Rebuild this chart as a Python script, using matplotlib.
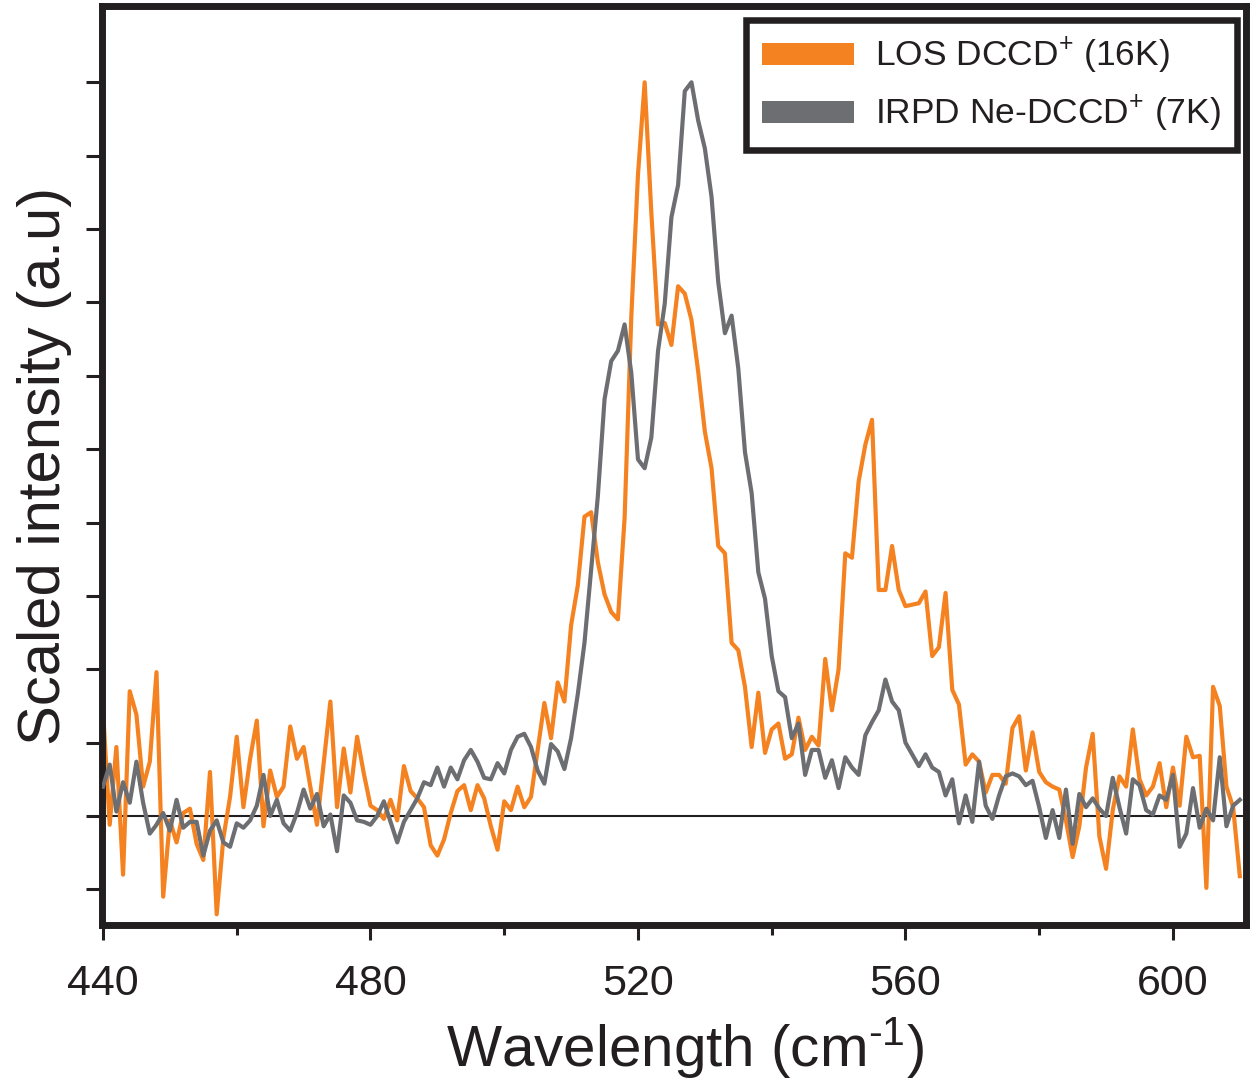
import matplotlib
matplotlib.use("Agg")
import matplotlib.pyplot as plt
import numpy as np
from matplotlib.patches import Patch
from matplotlib.ticker import MultipleLocator, FixedLocator

plt.rcParams['font.family'] = ['Liberation Sans', 'DejaVu Sans']
plt.rcParams['mathtext.fontset'] = 'custom'
plt.rcParams['mathtext.rm'] = 'Liberation Sans'
plt.rcParams['mathtext.it'] = 'Liberation Sans:italic'
plt.rcParams['mathtext.bf'] = 'Liberation Sans:bold'

# wavenumber grid (cm-1), one point per cm-1
wavenumber = np.arange(440, 611)

# LOS DCCD+ (16K), scaled so main peak = 5
los = [0.72, -0.06, 0.47, -0.40, 0.85, 0.69, 0.20, 0.37, 0.98, -0.55,
       -0.03, -0.18, 0.02, 0.05, -0.19, -0.30, 0.30, -0.67, -0.15, 0.13,
       0.54, 0.06, 0.39, 0.65, -0.07, 0.31, 0.13, 0.20, 0.61, 0.39,
       0.47, 0.20, -0.06, 0.36, 0.78, 0.06, 0.46, 0.16, 0.54, 0.29,
       0.07, 0.04, -0.02, 0.11, -0.03, 0.34, 0.17, 0.12, 0.06, -0.20,
       -0.27, -0.16, 0.02, 0.17, 0.21, 0.04, 0.21, 0.12, -0.07, -0.23,
       0.10, 0.04, 0.20, 0.06, 0.13, 0.45, 0.77, 0.53, 0.91, 0.78,
       1.30, 1.57, 2.04, 2.07, 1.73, 1.51, 1.39, 1.34, 2.03, 3.40,
       4.37, 5.00, 4.11, 3.35, 3.36, 3.21, 3.61, 3.56, 3.38, 3.03,
       2.62, 2.37, 1.84, 1.79, 1.18, 1.13, 0.88, 0.47, 0.84, 0.43,
       0.59, 0.63, 0.39, 0.42, 0.67, 0.45, 0.54, 0.48, 1.07, 0.72,
       1.00, 1.79, 1.76, 2.28, 2.53, 2.70, 1.54, 1.54, 1.84, 1.54,
       1.43, 1.44, 1.45, 1.53, 1.09, 1.15, 1.52, 0.86, 0.76, 0.35,
       0.42, 0.37, 0.16, 0.28, 0.28, 0.22, 0.60, 0.68, 0.31, 0.57,
       0.30, 0.23, 0.20, 0.18, -0.03, -0.28, -0.07, 0.33, 0.56, -0.14,
       -0.36, 0.04, 0.27, 0.20, 0.59, 0.25, 0.14, 0.20, 0.36, 0.06,
       0.33, 0.07, 0.54, 0.40, 0.41, -0.49, 0.88, 0.75, 0.20, 0.06,
       -0.41]

# IRPD Ne-DCCD+ (7K)
irpd = [0.20, 0.35, 0.03, 0.23, 0.09, 0.37, 0.09, -0.12, -0.06, 0.02,
        -0.10, 0.11, -0.08, -0.04, -0.04, -0.27, -0.10, -0.03, -0.18, -0.21,
        -0.05, -0.08, -0.03, 0.07, 0.28, 0.00, 0.11, -0.05, -0.10, 0.02,
        0.18, 0.05, 0.15, -0.07, 0.01, -0.24, 0.14, 0.09, -0.03, -0.04,
        -0.06, 0.00, 0.10, -0.04, -0.18, -0.04, 0.04, 0.12, 0.23, 0.21,
        0.33, 0.20, 0.33, 0.25, 0.38, 0.45, 0.37, 0.26, 0.25, 0.36,
        0.29, 0.45, 0.54, 0.56, 0.47, 0.31, 0.22, 0.49, 0.44, 0.32,
        0.53, 0.83, 1.18, 1.68, 2.18, 2.84, 3.10, 3.17, 3.35, 3.02,
        2.43, 2.37, 2.58, 3.17, 3.49, 4.08, 4.30, 4.94, 5.00, 4.74,
        4.55, 4.22, 3.64, 3.29, 3.41, 3.05, 2.48, 2.20, 1.66, 1.48,
        1.09, 0.85, 0.81, 0.53, 0.63, 0.28, 0.45, 0.45, 0.26, 0.38,
        0.19, 0.40, 0.33, 0.28, 0.55, 0.64, 0.72, 0.93, 0.78, 0.72,
        0.50, 0.42, 0.34, 0.42, 0.33, 0.30, 0.14, 0.25, -0.05, 0.14,
        -0.04, 0.37, 0.07, -0.02, 0.14, 0.27, 0.29, 0.27, 0.21, 0.24,
        0.06, -0.15, 0.04, -0.15, 0.18, -0.19, 0.15, 0.06, 0.12, 0.05,
        0.00, 0.26, 0.06, -0.12, 0.25, 0.21, 0.04, 0.01, 0.14, 0.11,
        0.28, -0.21, -0.12, 0.19, -0.08, 0.05, -0.03, 0.40, -0.07, 0.07,
        0.11]

labels = ['LOS DCCD$^{+}$ (16K)', 'IRPD Ne-DCCD$^{+}$ (7K)']
xticks = [440, 480, 520, 560, 600]
yticks = [-0.5, 0, 0.5, 1, 1.5, 2, 2.5, 3, 3.5, 4, 4.5, 5]

ORANGE = '#F58220'
GREY = '#6D6E71'
BLACK = '#231F20'

fig = plt.figure(figsize=(12.51, 10.82), dpi=100)
ax = fig.add_axes([102/1251, 1 - 925/1082, (1245.5 - 102)/1251, (925 - 6)/1082])

ax.axhline(0, color=BLACK, lw=1.5, zorder=1)
ax.plot(wavenumber, los, color=ORANGE, lw=3.0, zorder=2)
ax.plot(wavenumber, irpd, color=GREY, lw=3.0, zorder=3)

ax.set_xlim(439.85, 610.85)
ax.set_ylim(-0.743, 5.52)

for s in ax.spines.values():
    s.set_linewidth(5)
    s.set_color(BLACK)

ax.set_xticks(xticks)
ax.xaxis.set_minor_locator(MultipleLocator(20))
ax.yaxis.set_major_locator(FixedLocator(yticks))
ax.set_yticklabels([])
ax.tick_params(axis='x', which='major', direction='out', length=11, width=2.2,
               color=BLACK, labelsize=31, pad=17, labelcolor=BLACK)
ax.tick_params(axis='x', which='minor', direction='out', length=7.5, width=2.2, color=BLACK)
ax.tick_params(axis='y', which='major', direction='out', length=11.5, width=2.2,
               color=BLACK, labelleft=False)

ax.set_xlabel(r'Wavelength (cm$^{\text{-1}}$)', fontsize=42, labelpad=8, color=BLACK)
ax.xaxis.label.set_x(0.5 + 11/1143.5)
ax.set_ylabel('Scaled intensity (a.u)', fontsize=43, labelpad=10, color=BLACK)

handles = [Patch(facecolor=ORANGE, edgecolor='none'),
           Patch(facecolor=GREY, edgecolor='none')]
leg = fig.legend(handles, labels, loc='upper right',
                 bbox_to_anchor=(1237/1251, 1 - 20/1082), bbox_transform=fig.transFigure,
                 borderaxespad=0, fontsize=25.5, handlelength=2.6, handleheight=0.57,
                 handletextpad=0.6, borderpad=0.45, labelspacing=0.5,
                 fancybox=False, framealpha=1, edgecolor=BLACK)
leg.get_frame().set_linewidth(4.7)
for t in leg.get_texts():
    t.set_color(BLACK)

fig.savefig('out.png', dpi=100)
